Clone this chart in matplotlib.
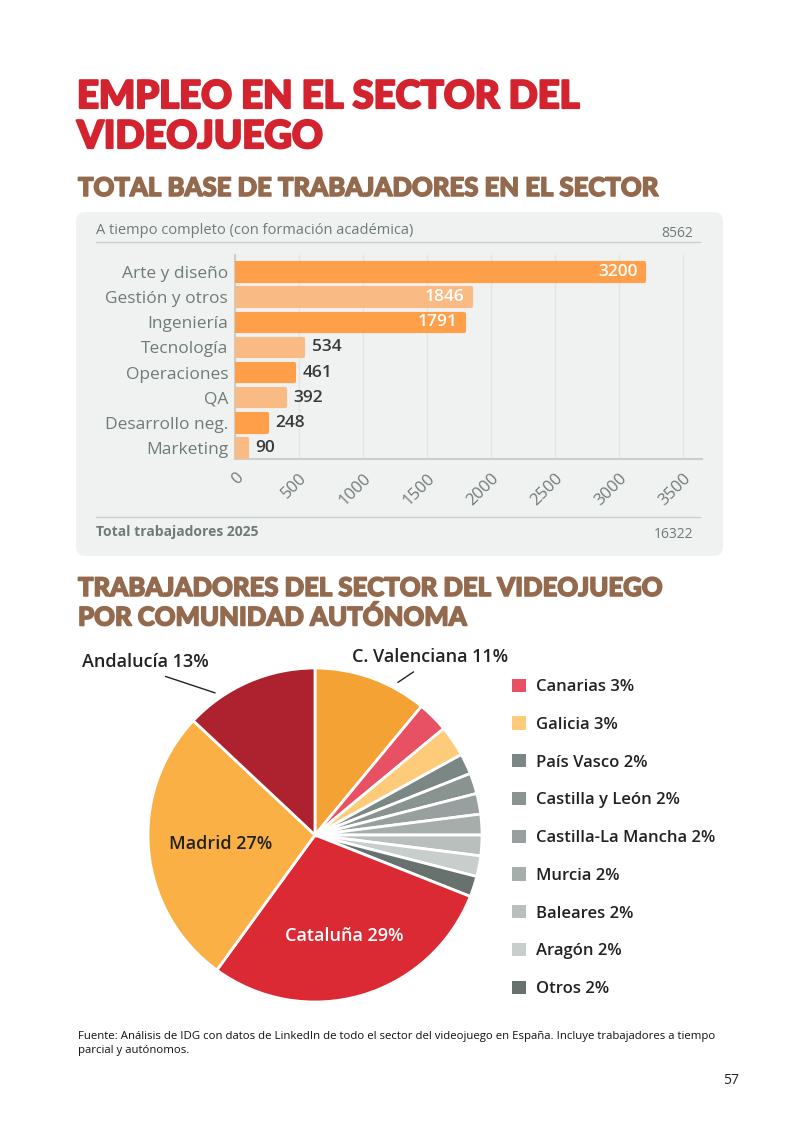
import matplotlib.pyplot as plt
import matplotlib.patheffects as pe
import numpy as np
from matplotlib.patches import FancyBboxPatch
from matplotlib.lines import Line2D

plt.rcParams['font.family'] = ['Open Sans', 'DejaVu Sans']

# --- data ---
roles = ['Arte y diseño', 'Gestión y otros', 'Ingeniería', 'Tecnología',
         'Operaciones', 'QA', 'Desarrollo neg.', 'Marketing']
workers = [3200, 1846, 1791, 534, 461, 392, 248, 90]
full_time_total = 8562
total_2025 = 16322
x_ticks = [0, 500, 1000, 1500, 2000, 2500, 3000, 3500]

regions = ['C. Valenciana', 'Canarias', 'Galicia', 'País Vasco', 'Castilla y León',
           'Castilla-La Mancha', 'Murcia', 'Baleares', 'Aragón', 'Otros',
           'Cataluña', 'Madrid', 'Andalucía']
shares = [11, 3, 3, 2, 2, 2, 2, 2, 2, 2, 29, 27, 13]
region_colors = ['#F4A233', '#E85163', '#FDCB7A', '#7B8785', '#89938F', '#97A09E',
                 '#A6AEAC', '#B8BFBD', '#C8CECC', '#67726F', '#DB2A33', '#FBB045', '#AE212E']

W, H = 800, 1131
fx = lambda px: px / W
fy = lambda py: 1 - py / H

title_red = '#D2232E'
brown = '#936A4D'
gray_txt = '#6E7B78'
head_font = ['Lato', 'DejaVu Sans']

fig = plt.figure(figsize=(8, 11.31), dpi=100)


def heading(px, py, s, size, color, stroke):
    fig.text(fx(px), fy(py), s, fontsize=size, fontweight='black', color=color,
             va='center', family=head_font,
             path_effects=[pe.withStroke(linewidth=stroke, foreground=color)])


# titles
heading(77, 97, 'EMPLEO EN EL SECTOR DEL', 27.5, title_red, 1.6)
heading(77, 137, 'VIDEOJUEGO', 27.5, title_red, 1.6)
heading(78, 188, 'TOTAL BASE DE TRABAJADORES EN EL SECTOR', 18.5, brown, 1.1)

# grey panel
panel = FancyBboxPatch((fx(76), fy(556)), fx(723) - fx(76), fy(212) - fy(556),
                       boxstyle='round,pad=0,rounding_size=0.012',
                       mutation_aspect=W / H, transform=fig.transFigure,
                       facecolor='#F0F2F1', edgecolor='none', zorder=0)
fig.add_artist(panel)

fig.text(fx(96), fy(231), 'A tiempo completo (con formación académica)', fontsize=10.5,
         color=gray_txt, va='center')
fig.text(fx(693), fy(233), f'{full_time_total}', fontsize=10, color=gray_txt,
         va='center', ha='right')
fig.add_artist(Line2D([fx(96), fx(700)], [fy(242), fy(242)], color='#C9CFCD', lw=1,
                      transform=fig.transFigure))
fig.add_artist(Line2D([fx(96), fx(700)], [fy(517), fy(517)], color='#C9CFCD', lw=1,
                      transform=fig.transFigure))
fig.text(fx(96), fy(532), 'Total trabajadores 2025', fontsize=10, fontweight='bold',
         color=gray_txt, va='center')
fig.text(fx(693), fy(535), f'{total_2025}', fontsize=10, color=gray_txt,
         va='center', ha='right')

# bar chart
ax = fig.add_axes([fx(235), fy(459), fx(702) - fx(235), fy(255) - fy(459)])
ax.set_facecolor('none')
ypos = np.arange(len(roles))
bar_colors = ['#FF9F4A' if i % 2 == 0 else '#F9BA84' for i in range(len(roles))]
bars = ax.barh(ypos, workers, height=0.7, color=bar_colors, zorder=3)
for b, c in zip(bars, bar_colors):
    b.set_edgecolor(c)
    b.set_linewidth(3)
    b.set_joinstyle('round')
for y, v in zip(ypos, workers):
    if v > 1000:
        ax.annotate(f'{v}', (v, y), xytext=(-5, 0), textcoords='offset points',
                    ha='right', va='center', color='white', fontsize=12.5,
                    fontweight='semibold', zorder=4)
    else:
        ax.annotate(f'{v}', (v, y), xytext=(6, 0), textcoords='offset points',
                    ha='left', va='center', color='#3A3A3A', fontsize=12.5,
                    fontweight='semibold', zorder=4)
ax.set_ylim(7.44, -0.68)
ax.set_xlim(0, 3650)
ax.set_yticks(ypos)
ax.set_yticklabels(roles, fontsize=12.5, color=gray_txt)
ax.set_xticks(x_ticks)
ax.set_xticklabels([str(t) for t in x_ticks], rotation=45, ha='right',
                   rotation_mode='anchor', fontsize=12, color=gray_txt)
ax.tick_params(axis='both', length=0, pad=5)
ax.tick_params(axis='x', pad=8)
ax.grid(axis='x', color='#E1E5E4', lw=1, zorder=0)
for s in ['top', 'right']:
    ax.spines[s].set_visible(False)
for s in ['left', 'bottom']:
    ax.spines[s].set_color('#C9CFCD')
    ax.spines[s].set_linewidth(1.5)

# second section title
heading(78, 588, 'TRABAJADORES DEL SECTOR DEL VIDEOJUEGO', 18.5, brown, 1.1)
heading(78, 617, 'POR COMUNIDAD AUTÓNOMA', 18.5, brown, 1.1)

# pie chart
pax = fig.add_axes([fx(148), fy(1002), fx(482) - fx(148), fy(668) - fy(1002)])
wedges, _ = pax.pie(shares, colors=region_colors, startangle=90, counterclock=False,
                    wedgeprops=dict(edgecolor='white', linewidth=2))
pax.set_xlim(-1, 1)
pax.set_ylim(-1, 1)
pax.set_aspect('equal')


def polar(w, frac, r):
    a = np.deg2rad(w.theta1 + frac * (w.theta2 - w.theta1))
    return r * np.cos(a), r * np.sin(a)


def pct(name):
    return f'{name} {shares[regions.index(name)]}%'


# inside labels
w_mad = wedges[regions.index('Madrid')]
pax.text(*polar(w_mad, 0.5, 0.57), pct('Madrid'), ha='center', va='center',
         fontsize=13, fontweight='semibold', color='#222222')
w_cat = wedges[regions.index('Cataluña')]
pax.text(*polar(w_cat, 0.5, 0.63), pct('Cataluña'), ha='center', va='center',
         fontsize=13, fontweight='semibold', color='white')

# outside labels with leader lines
w_and = wedges[regions.index('Andalucía')]
pax.annotate(pct('Andalucía'), xy=polar(w_and, 0.75, 1.04),
             xytext=(fx(82), fy(662)), textcoords='figure fraction',
             ha='left', va='center', fontsize=13, fontweight='semibold',
             color='#222222', annotation_clip=False,
             arrowprops=dict(arrowstyle='-', color='#222222', lw=1,
                             relpos=(0.53, 0.0), shrinkA=6, shrinkB=0))
w_val = wedges[regions.index('C. Valenciana')]
pax.annotate(pct('C. Valenciana'), xy=polar(w_val, 0.28, 1.04),
             xytext=(fx(352), fy(657)), textcoords='figure fraction',
             ha='left', va='center', fontsize=13, fontweight='semibold',
             color='#222222', annotation_clip=False,
             arrowprops=dict(arrowstyle='-', color='#222222', lw=1,
                             relpos=(0.45, 0.0), shrinkA=4, shrinkB=0))

# legend for small slices
small = list(range(1, 10))
leg = fig.legend([wedges[i] for i in small], [pct(regions[i]) for i in small],
                 loc='upper left', bbox_to_anchor=(fx(505), fy(672)),
                 frameon=False, fontsize=12, handlelength=0.85, handleheight=0.85,
                 handletextpad=0.6, labelspacing=1.28, borderaxespad=0)
for t in leg.get_texts():
    t.set_fontweight('semibold')
    t.set_color('#222222')
for h in leg.legend_handles:
    h.set_edgecolor('none')

# footer
fig.text(fx(78), fy(1036),
         'Fuente: Análisis de IDG con datos de LinkedIn de todo el sector del videojuego en España. Incluye trabajadores a tiempo',
         fontsize=8.2, va='center', color='#111111')
fig.text(fx(78), fy(1050), 'parcial y autónomos.', fontsize=8.2, va='center', color='#111111')
fig.text(fx(739), fy(1081), '57', fontsize=10, va='center', ha='right', color='#222222')

fig.savefig('out.png', dpi=100)
